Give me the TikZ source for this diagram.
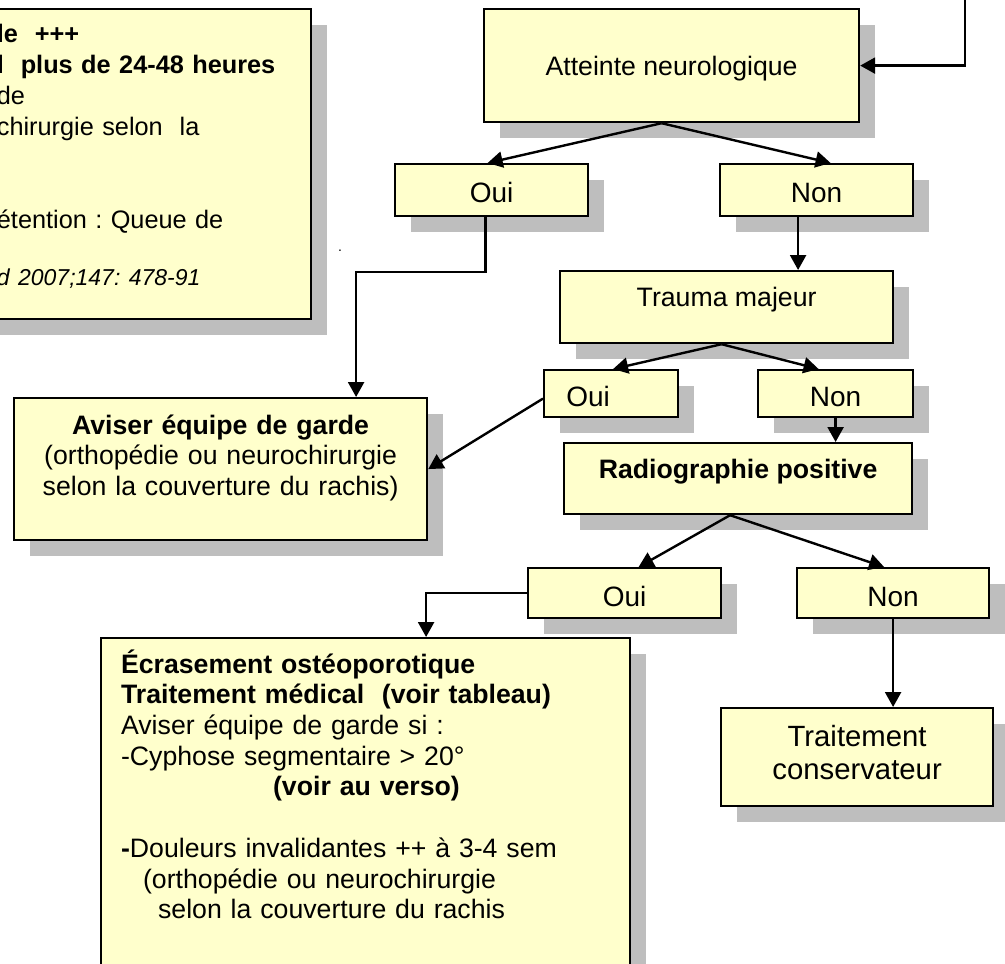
\documentclass[tikz,border=0pt]{standalone}
\usepackage{fontspec}
\setmainfont{Liberation Sans}
\usetikzlibrary{arrows.meta,shadows}
\frenchspacing

\definecolor{boxyellow}{RGB}{255,255,204}
\definecolor{shadowgrey}{RGB}{190,190,190}

\newcommand{\boxfont}{\fontsize{26.67}{30.7}\selectfont}
\newcommand{\choicefont}{\fontsize{28}{32}\selectfont}
\newcommand{\notefont}{\fontsize{25.3}{31}\selectfont}
\newcommand{\bigboxfont}{\fontsize{29.3}{33.7}\selectfont}

\begin{document}
\begin{tikzpicture}[x=1pt,y=-1pt,
    box/.style={draw, line width=2.2pt, fill=boxyellow, inner sep=0pt, anchor=north west,
      drop shadow={shadow xshift=16pt, shadow yshift=-16pt, fill=shadowgrey, opacity=1},
      font=\boxfont},
    choice/.style={box, font=\choicefont},
    arr/.style={line width=2.4pt, -{Triangle[length=15pt,width=16pt]}}]
  \useasboundingbox (0,0) rectangle (1005,964);

  % Note box (cut at the left border)
  \node[box, anchor=north east, font=\notefont, text width=286pt, inner xsep=28pt, align=left,
        text height=33.7pt, text depth=276.3pt] (note) at (312,8)
    {\textbf{le\ \ +++}\\
     \textbf{l\ \ plus de 24-48 heures}\\
     de\\
     chirurgie selon\ \ la\\
     ~\\
     ~\\
     étention : Queue de\\
     ~\\[-5pt]
     {\fontsize{23}{31}\selectfont\itshape d 2007;147: 478-91}};
  \node[anchor=base, font=\fontsize{14}{14}\selectfont] (stray) at (340,251) {.};

  % Decision boxes
  \node[box, minimum width=375pt, text height=66pt, text depth=47pt] (att) at (483,8) {Atteinte neurologique};
  \node[choice, minimum width=193pt, text height=38pt, text depth=14pt] (oui1) at (394,163) {Oui};
  \node[choice, minimum width=193pt, text height=38pt, text depth=14pt] (non1) at (719,163) {Non};
  \node[box, minimum width=333pt, text height=35pt, text depth=37pt] (trauma) at (559,270) {Trauma majeur};
  \node[choice, minimum width=134pt, text height=36pt, text depth=11pt] (oui2) at (543,369) {Oui\hspace*{46pt}};
  \node[choice, minimum width=155pt, text height=36pt, text depth=11pt] (non2) at (757,369) {Non};
  \node[box, minimum width=348pt, text height=35pt, text depth=36pt, font=\boxfont\bfseries] (radio) at (563,442) {Radiographie positive};
  \node[choice, minimum width=193pt, text height=38pt, text depth=12pt] (oui3) at (527,567) {Oui};
  \node[choice, minimum width=192pt, text height=38pt, text depth=12pt] (non3) at (796,567) {Non};

  % Outcome boxes
  \node[box, text width=413pt, align=center, text height=36pt, text depth=106pt] (avis) at (13,397)
    {\textbf{Aviser équipe de garde}\\ (orthopédie ou neurochirurgie\\ selon la couverture du rachis)};
  \node[box, text width=489pt, inner xsep=20pt, align=left, text height=35pt, text depth=313pt] (ecr) at (100,637)
    {\textbf{Écrasement ostéoporotique}\\
     \textbf{Traitement médical\ \ (voir tableau)}\\
     Aviser équipe de garde si :\\
     -Cyphose segmentaire > 20°\\
     \hspace*{152pt}\textbf{(voir au verso)}\\
     ~\\
     \textbf{-}Douleurs invalidantes ++ à 3-4 sem\\
     \hspace*{22pt}(orthopédie ou neurochirurgie\\
     \hspace*{37pt}selon la couverture du rachis};
  \node[box, text width=272pt, align=center, font=\bigboxfont, text height=38pt, text depth=60pt] (trait) at (720,707)
    {Traitement\\ conservateur};

  % Connectors
  \coordinate (feed) at (965,-10);
  \draw[arr] (feed) |- (att.east);
  \draw[arr] ([xshift=-10pt]att.south) -- ([xshift=-4pt]oui1.north);
  \draw[arr] ([xshift=-10pt]att.south) -- ([xshift=14pt]non1.north);
  \draw[arr] ([xshift=-6pt]oui1.south) -- ++(0,55) -| ([xshift=135.5pt]avis.north);
  \draw[arr] ([xshift=-18.5pt]non1.south) -- ([xshift=71.5pt]trauma.north);
  \draw[arr] ([xshift=-5pt]trauma.south) -- ([xshift=2pt]oui2.north);
  \draw[arr] ([xshift=-5pt]trauma.south) -- ([xshift=-17pt]non2.north);
  \draw[arr] ([yshift=-5pt]oui2.west) -- (avis.east);
  \draw[arr] (non2.south) -- (non2.south |- radio.north);
  \draw[arr] ([xshift=-8pt]radio.south) -- ([xshift=14pt]oui3.north);
  \draw[arr] ([xshift=-8pt]radio.south) -- ([xshift=-9pt]non3.north);
  \draw[arr] (oui3.west) -| ([xshift=60.5pt]ecr.north);
  \draw[arr] (non3.south) -- (non3.south |- trait.north);
\end{tikzpicture}
\end{document}
